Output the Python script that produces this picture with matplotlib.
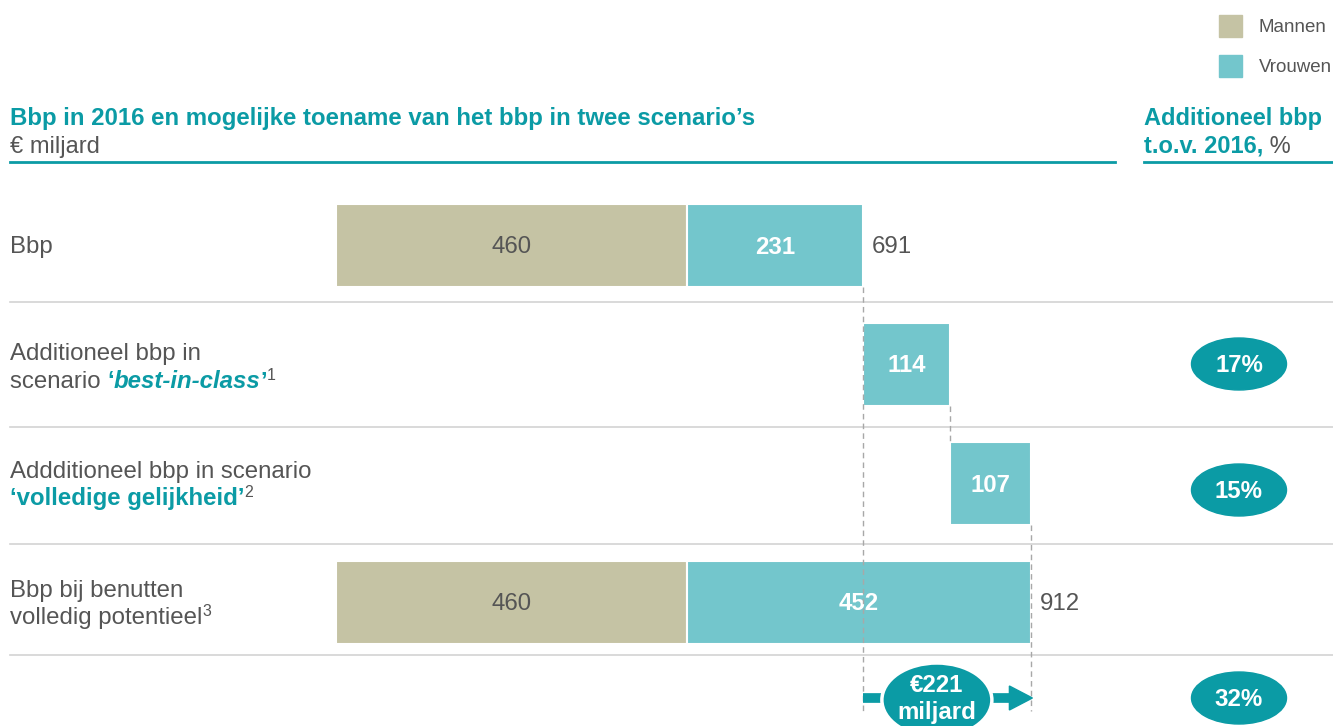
import matplotlib
matplotlib.use("Agg")
import matplotlib.pyplot as plt
from matplotlib.patches import Ellipse, Rectangle, Polygon

plt.rcParams['font.family'] = ['Liberation Sans', 'DejaVu Sans']

# data
series = ["Mannen", "Vrouwen"]
mannen = [460, 0, 0, 460]
vrouwen = [231, 114, 107, 452]
vrouwen_start = [460, 691, 805, 460]
totals = [691, None, None, 912]
extra_pct = [None, 17, 15, None]
extra_total = 221
extra_total_pct = 32

TEAL = "#0b9ba5"
MAN = "#c5c3a4"
VROUW = "#73c6cc"
GRAY = "#555555"
LINE = "#d3d3d3"

W, H = 1333, 726
X0, S = 336, 0.7625          # pixel of value 0, pixels per € miljard
ROW_Y = [245, 364, 483, 602]
BAR_H = 83
FS = 17.3

fig = plt.figure(figsize=(W / 100, H / 100), dpi=100)
ax = fig.add_axes([0, 0, 1, 1])
ax.set_xlim(-X0 / S, (W - X0) / S)
ax.set_ylim(H, 0)
ax.axis('off')
ov = fig.add_axes([0, 0, 1, 1])
ov.set_xlim(0, W)
ov.set_ylim(H, 0)
ov.axis('off')
r = fig.canvas.get_renderer()


def px(v):
    return X0 + v * S


def chain(parts, x, y, fs=FS):
    # parts: (text, color, weight, style, size, dy)
    for s, c, w, st, size, dy in parts:
        t = ov.text(x, y + dy, s, color=c, fontweight=w, fontstyle=st,
                    fontsize=size or fs, va='baseline', ha='left')
        x += t.get_window_extent(r).width


# bars
ax.barh(ROW_Y, mannen, height=BAR_H, color=MAN, edgecolor='white', linewidth=1.5)
ax.barh(ROW_Y, vrouwen, left=vrouwen_start, height=BAR_H, color=VROUW,
        edgecolor='white', linewidth=1.5)
for i, y in enumerate(ROW_Y):
    if mannen[i]:
        ax.text(mannen[i] / 2, y + 2, str(mannen[i]), ha='center', va='center',
                fontsize=FS, color=GRAY)
    ax.text(vrouwen_start[i] + vrouwen[i] / 2, y + 2, str(vrouwen[i]), ha='center',
            va='center', fontsize=FS, color='white', fontweight='bold')
    if totals[i]:
        ax.text(totals[i] + 11, y + 2, str(totals[i]), ha='left', va='center',
                fontsize=FS, color=GRAY)

# separators
for y in [302, 427, 544, 655]:
    ov.plot([10, W], [y, y], color=LINE, lw=1.2)
ov.plot([10, 1115], [162, 162], color=TEAL, lw=2)
ov.plot([1144, W], [162, 162], color=TEAL, lw=2)

# dashed connectors
end0 = px(vrouwen_start[0] + vrouwen[0])
end1 = px(vrouwen_start[1] + vrouwen[1])
end3 = px(vrouwen_start[3] + vrouwen[3])
dash = dict(color='#a8a8a8', lw=1, ls=(0, (4, 3)))
ov.plot([end0, end0], [ROW_Y[0] + BAR_H / 2, 711], **dash)
ov.plot([end1, end1], [ROW_Y[1] + BAR_H / 2, ROW_Y[2] - BAR_H / 2], **dash)
ov.plot([end3, end3], [ROW_Y[2] + BAR_H / 2, 711], **dash)

# headers
ov.text(10, 119, "Bbp in 2016 en mogelijke toename van het bbp in twee scenario\u2019s",
        color=TEAL, fontweight='bold', fontsize=17.3, va='center')
ov.text(10, 147, "\u20ac miljard", color=GRAY, fontsize=17, va='center')
ov.text(1144, 119, "Additioneel bbp", color=TEAL, fontweight='bold', fontsize=17,
        va='center')
chain([("t.o.v. 2016,", TEAL, 'bold', 'normal', 17, 0),
       (" %", GRAY, 'normal', 'normal', 17, 0)], 1144, 153)

# legend
for (name, c), y in zip(zip(series, [MAN, VROUW]), [26, 66]):
    ov.add_patch(Rectangle((1219, y - 11), 23, 22, color=c))
    ov.text(1259, y + 1, name, color=GRAY, fontsize=13.5, va='center')

# row labels
ov.text(10, ROW_Y[0] + 2, "Bbp", color=GRAY, fontsize=FS, va='center')
ov.text(10, 354, "Additioneel bbp in", color=GRAY, fontsize=FS, va='center')
chain([("scenario ", GRAY, 'normal', 'normal', None, 0),
       ("\u2018", TEAL, 'bold', 'normal', None, 0),
       ("best-in-class", TEAL, 'bold', 'italic', None, 0),
       ("\u2019", TEAL, 'bold', 'normal', None, 0),
       ("1", GRAY, 'normal', 'normal', 11.5, -8)], 10, 388)
ov.text(10, 472, "Addditioneel bbp in scenario", color=GRAY, fontsize=FS, va='center')
chain([("\u2018volledige gelijkheid\u2019", TEAL, 'bold', 'normal', None, 0),
       ("2", GRAY, 'normal', 'normal', 11.5, -8)], 10, 505)
ov.text(10, 591, "Bbp bij benutten", color=GRAY, fontsize=FS, va='center')
chain([("volledig potentieel", GRAY, 'normal', 'normal', None, 0),
       ("3", GRAY, 'normal', 'normal', 11.5, -8)], 10, 624)

# percentage bubbles
for i, p in enumerate(extra_pct):
    if p:
        yy = ROW_Y[i] + (0 if i == 1 else 7)
        ov.add_patch(Ellipse((1239, yy), 95, 52, color=TEAL))
        ov.text(1239, yy + 1, f"{p}%", color='white', fontweight='bold',
                fontsize=FS, ha='center', va='center')
ov.add_patch(Ellipse((1239, 698), 95, 52, color=TEAL))
ov.text(1239, 699, f"{extra_total_pct}%", color='white', fontweight='bold',
        fontsize=FS, ha='center', va='center')

# arrow with total
ay = 698
cx = end0 + 74
ov.plot([end0, cx - 52], [ay, ay], color=TEAL, lw=7, solid_capstyle='butt')
ov.plot([cx + 52, end3 - 21], [ay, ay], color=TEAL, lw=7, solid_capstyle='butt')
ov.add_patch(Polygon([[end3 - 22, ay - 12], [end3 + 1, ay], [end3 - 22, ay + 12]],
                     color=TEAL))
ov.add_patch(Ellipse((cx, 700), 110, 74, facecolor=TEAL, edgecolor='white',
                     linewidth=2.5, zorder=3))
ov.text(cx, 685, f"\u20ac{extra_total}", color='white', fontweight='bold',
        fontsize=FS, ha='center', va='center', zorder=4)
ov.text(cx, 712, "miljard", color='white', fontweight='bold', fontsize=FS,
        ha='center', va='center', zorder=4)

fig.savefig("out.png", dpi=100)
